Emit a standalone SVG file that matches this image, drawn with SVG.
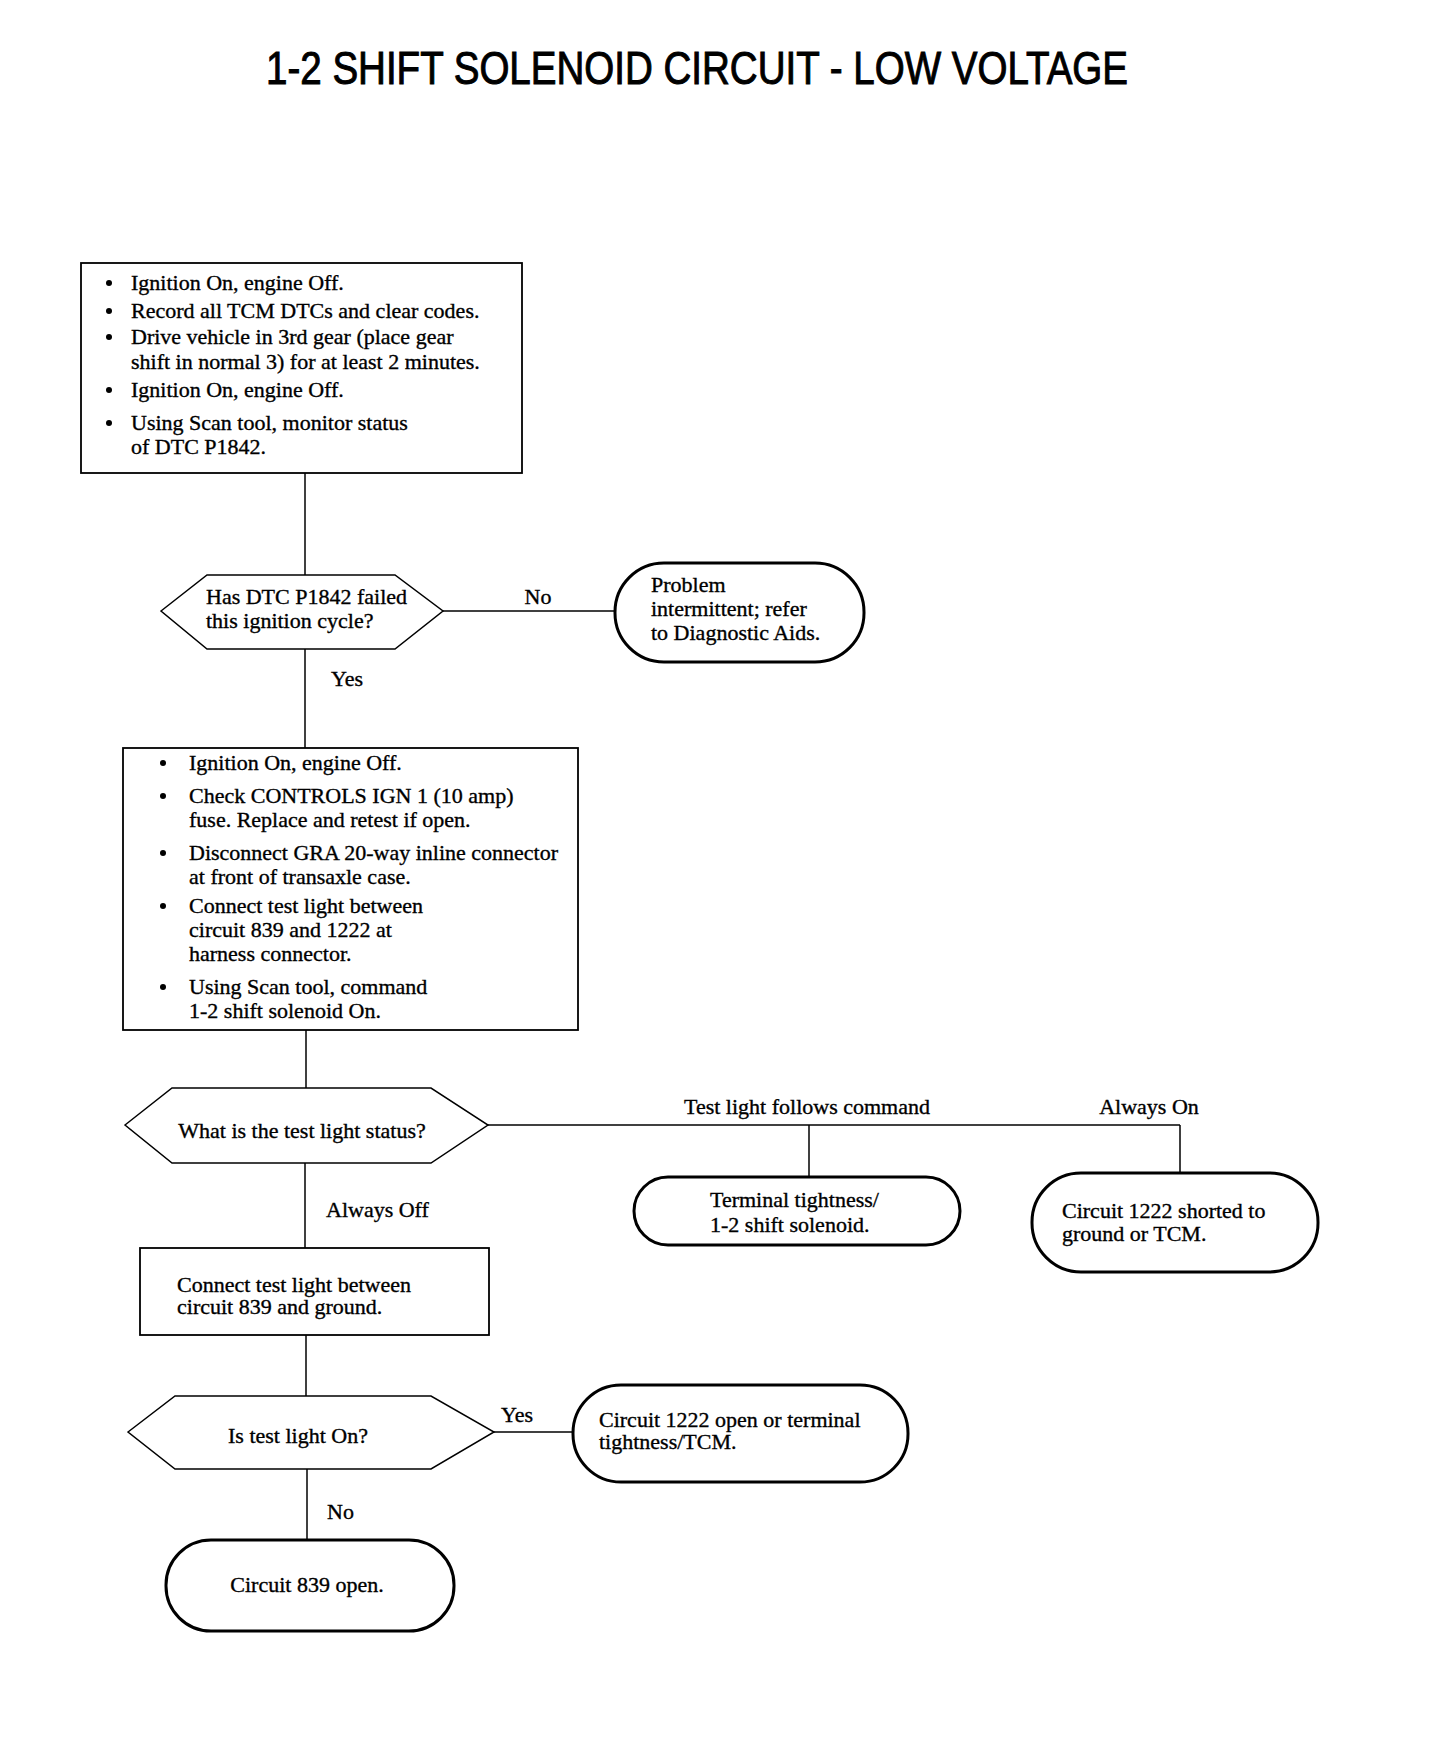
<svg xmlns="http://www.w3.org/2000/svg" width="1440" height="1738" viewBox="0 0 1440 1738">
<style>
.bg{fill:#fff}
.box{fill:#fff;stroke:#000;stroke-width:1.8}
.dec{fill:#fff;stroke:#000;stroke-width:1.5}
.term{fill:#fff;stroke:#000;stroke-width:3}
.ln{fill:none;stroke:#000;stroke-width:1.5}
text{font-family:"Liberation Serif","Times New Roman",serif;font-size:22px;fill:#000;stroke:#000;stroke-width:0.35}
.title{font-family:"Liberation Sans",Arial,sans-serif;font-size:46px;stroke-width:1}
.mid{text-anchor:middle}
</style>
<rect class="bg" x="0" y="0" width="1440" height="1738"/>
<text class="title mid" x="697" y="84" textLength="862" lengthAdjust="spacingAndGlyphs">1-2 SHIFT SOLENOID CIRCUIT - LOW VOLTAGE</text>

<g id="connectors">
<line class="ln" x1="305" y1="473" x2="305" y2="575"/>
<line class="ln" x1="443" y1="611" x2="615" y2="611"/>
<line class="ln" x1="305" y1="649" x2="305" y2="748"/>
<line class="ln" x1="306" y1="1030" x2="306" y2="1088"/>
<line class="ln" x1="488" y1="1125" x2="1180" y2="1125"/>
<line class="ln" x1="809" y1="1125" x2="809" y2="1177"/>
<line class="ln" x1="1180" y1="1125" x2="1180" y2="1173"/>
<line class="ln" x1="305" y1="1163" x2="305" y2="1248"/>
<line class="ln" x1="306" y1="1335" x2="306" y2="1396"/>
<line class="ln" x1="494" y1="1432" x2="573" y2="1432"/>
<line class="ln" x1="307" y1="1469" x2="307" y2="1540"/>
<text x="538" y="604" class="mid">No</text>
<text x="331" y="686">Yes</text>
<text x="807" y="1114" class="mid">Test light follows command</text>
<text x="1149" y="1114" class="mid">Always On</text>
<text x="326" y="1217">Always Off</text>
<text x="501" y="1422">Yes</text>
<text x="327" y="1519">No</text>
</g>

<g id="box1">
<rect class="box" x="81" y="263" width="441" height="210"/>
<circle cx="109" cy="283" r="3"/><text x="131" y="290">Ignition On, engine Off.</text>
<circle cx="109" cy="311" r="3"/><text x="131" y="318">Record all TCM DTCs and clear codes.</text>
<circle cx="109" cy="337" r="3"/><text x="131" y="344">Drive vehicle in 3rd gear (place gear</text>
<text x="131" y="369">shift in normal 3) for at least 2 minutes.</text>
<circle cx="109" cy="390" r="3"/><text x="131" y="397">Ignition On, engine Off.</text>
<circle cx="109" cy="423" r="3"/><text x="131" y="430">Using Scan tool, monitor status</text>
<text x="131" y="454">of DTC P1842.</text>
</g>

<g id="decision1">
<polygon class="dec" points="161,611 207,575 395,575 443,611 395,649 207,649"/>
<text x="206" y="604">Has DTC P1842 failed</text>
<text x="206" y="628">this ignition cycle?</text>
</g>

<g id="term1">
<rect class="term" x="615" y="563" width="249" height="99" rx="49" ry="49"/>
<text x="651" y="592">Problem</text>
<text x="651" y="616">intermittent; refer</text>
<text x="651" y="640">to Diagnostic Aids.</text>
</g>

<g id="box2">
<rect class="box" x="123" y="748" width="455" height="282"/>
<circle cx="163" cy="763" r="3"/><text x="189" y="770">Ignition On, engine Off.</text>
<circle cx="163" cy="796" r="3"/><text x="189" y="803">Check CONTROLS IGN 1 (10 amp)</text>
<text x="189" y="827">fuse. Replace and retest if open.</text>
<circle cx="163" cy="853" r="3"/><text x="189" y="860">Disconnect GRA 20-way inline connector</text>
<text x="189" y="884">at front of transaxle case.</text>
<circle cx="163" cy="906" r="3"/><text x="189" y="913">Connect test light between</text>
<text x="189" y="937">circuit 839 and 1222 at</text>
<text x="189" y="961">harness connector.</text>
<circle cx="163" cy="987" r="3"/><text x="189" y="994">Using Scan tool, command</text>
<text x="189" y="1018">1-2 shift solenoid On.</text>
</g>

<g id="decision2">
<polygon class="dec" points="125,1125 172,1088 431,1088 488,1125 431,1163 172,1163"/>
<text x="302" y="1138" class="mid">What is the test light status?</text>
</g>

<g id="term2">
<rect class="term" x="634" y="1177" width="326" height="68" rx="34" ry="34"/>
<text x="710" y="1207">Terminal tightness/</text>
<text x="710" y="1232">1-2 shift solenoid.</text>
</g>

<g id="term3">
<rect class="term" x="1032" y="1173" width="286" height="99" rx="49" ry="49"/>
<text x="1062" y="1218">Circuit 1222 shorted to</text>
<text x="1062" y="1241">ground or TCM.</text>
</g>

<g id="box3">
<rect class="box" x="140" y="1248" width="349" height="87"/>
<text x="177" y="1292">Connect test light between</text>
<text x="177" y="1314">circuit 839 and ground.</text>
</g>

<g id="decision3">
<polygon class="dec" points="128,1432 175,1396 431,1396 494,1432 431,1469 175,1469"/>
<text x="298" y="1443" class="mid">Is test light On?</text>
</g>

<g id="term4">
<rect class="term" x="573" y="1385" width="335" height="97" rx="48" ry="48"/>
<text x="599" y="1427">Circuit 1222 open or terminal</text>
<text x="599" y="1449">tightness/TCM.</text>
</g>

<g id="term5">
<rect class="term" x="166" y="1540" width="288" height="91" rx="45" ry="45"/>
<text x="307" y="1592" class="mid">Circuit 839 open.</text>
</g>
</svg>
